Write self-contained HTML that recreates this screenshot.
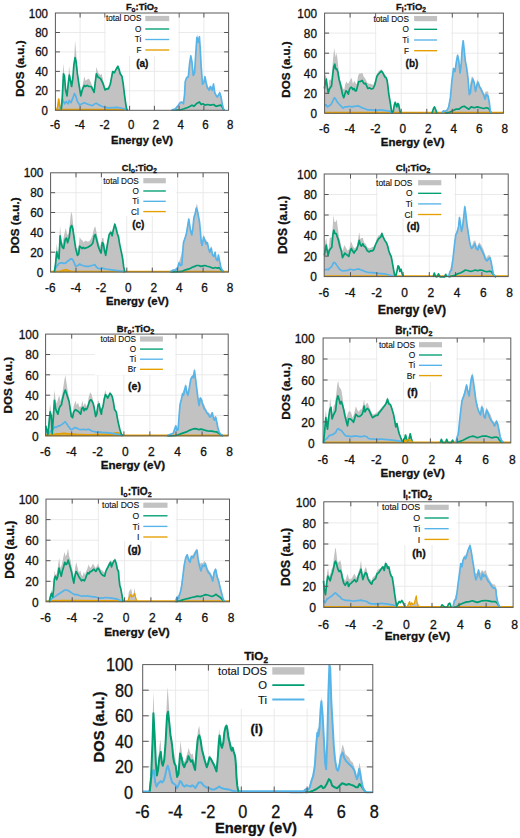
<!DOCTYPE html>
<html><head><meta charset="utf-8"><style>
html,body{margin:0;padding:0;background:#fff;}
svg{display:block;font-family:"Liberation Sans", sans-serif;}
text{fill:#111;stroke:#111;stroke-width:0.32px;}
text.l{stroke-width:0.12px;}
</style></head><body>
<svg width="520" height="838" viewBox="0 0 520 838">
<path d="M80.1 13V110.3M104.9 13V110.3M129.6 13V110.3M154.4 13V110.3M179.1 13V110.3M203.9 13V110.3M55.4 90.8H228.6M55.4 71.4H228.6M55.4 51.9H228.6M55.4 32.5H228.6" stroke="#e8e8e8" stroke-width="0.9" fill="none"/>
<polygon points="56.6,110.3 56.6,110.2 57.8,103.8 58.7,99.2 59.5,103.8 61,109.6 61.8,99.2 63.3,63.5 64.1,71.5 65.6,87.7 67,94.6 68.2,80.8 69.1,65.8 70.5,78.5 71.6,85.4 73,76.2 74.2,58.8 75.1,40.4 76.2,53.1 77.4,70.4 79.1,84.2 80.8,94.6 82.6,85.4 84.3,76.2 85.5,80.8 87.2,79.6 88.9,78.5 90.7,81.9 92.4,86.5 93.8,90 95.3,78.5 96.4,66.9 98.2,72.7 100.5,75 101.6,73.8 103.3,80.8 105.1,87.7 106.8,87.7 108.5,86.5 110.3,81.9 112.7,70.4 114.4,71.5 116.2,68.1 117.9,65.2 119,68.1 120.2,72.7 121.9,75 123.1,81.9 124.2,91.2 125.4,100.4 126.5,108.5 127.7,110.2 127.7,110.3" fill="#c2c2c2"/>
<polygon points="171.7,110.3 171.7,110 175.4,108.8 178.5,104.5 180.3,102 181.8,101.4 183.4,103.2 184.6,92.8 185.2,80.5 186.5,76.8 188.3,75.5 189.5,63.2 190.8,54.6 192,60.8 193.2,74.3 194.5,71.8 195.7,53.4 197.3,33.7 198.2,41.1 199.4,34.9 200.2,47.2 201.2,65.7 202.5,82.9 203.7,79.2 204.9,75.5 206.2,81.7 207.4,86.6 209.2,87.8 209.8,85.4 211.1,86 212.3,87.8 213.5,82.9 214.8,91.5 216,94 217.2,95.8 218.5,94 219.7,90.9 220.9,95.2 222.2,102.6 223.4,108.8 224.6,110 224.6,110.3" fill="#c2c2c2"/>
<polyline points="55.4,109.7 124.7,109.7" fill="none" stroke="#e69f00" stroke-width="1.7" stroke-linejoin="round"/>
<polyline points="56.6,110.2 57.8,106.2 58.7,99.2 59.6,105 60.7,110.2" fill="none" stroke="#e69f00" stroke-width="1.7" stroke-linejoin="round"/>
<polyline points="61.2,109.6 62.4,99.2 63.5,101.5 64.7,103.8 66.4,101.5 68.2,103.8 69.3,100.4 71,102.7 72.8,98.1 74.5,93.5 75.7,95.8 77.4,101.5 79.7,105 82,103.8 84.3,102.7 86.6,103.8 90.1,105 92.4,105.6 94.7,103.8 96.4,103.3 98.2,104.4 101.6,106.2 105.1,107.3 108.5,107.9 117.3,107.3 123.1,108.5 127.7,110.2" fill="none" stroke="#56b4e9" stroke-width="1.7" stroke-linejoin="round"/>
<polyline points="61.2,109.6 62.2,99.2 63.5,73.8 64.5,76.2 65.6,90 67,95.8 68.2,84.2 69.3,75 70.5,80.8 71.6,86.5 72.8,78.5 73.9,64.6 75.1,57.7 76.2,62.3 77.4,73.8 79.1,85.4 80.8,95.8 82.6,88.8 84.3,85.4 85.5,86.5 87.2,85.4 88.9,86.5 91.2,86.5 93,90 94.1,92.3 95.3,81.9 96.4,73.8 98.2,77.3 100.5,78.5 102.8,83.1 105.1,90 106.8,88.8 108.5,88.8 110.3,84.2 112.7,71.5 114.4,72.7 116.2,69.2 117.9,66.3 119,69.2 120.2,73.8 121.9,76.2 123.1,83.1 124.2,92.3 125.4,101.5 126.5,108.5 127.7,110.2" fill="none" stroke="#009e73" stroke-width="1.7" stroke-linejoin="round"/>
<polyline points="171.7,110 180.3,110 184,108.8 187.7,107.5 190.2,106.3 192,105.1 193.8,106.3 196.3,103.8 199.4,102 201.2,104.5 203.1,103.8 204.9,105.1 207.4,104.5 210.5,105.1 213.5,104.5 216,106.3 218.5,105.7 220.9,105.1 222.2,106.9 223.4,109.4 224.6,110" fill="none" stroke="#009e73" stroke-width="1.7" stroke-linejoin="round"/>
<polyline points="171.7,110 175.4,108.8 178.5,105.1 180.3,102.6 181.8,102 183.4,103.8 184.6,94 185.2,81.7 186.5,78 188.3,76.8 189.5,64.5 190.8,55.8 192,62 193.2,75.5 194.5,73.1 195.7,54.6 196.9,37.4 198.2,42.3 199.4,36.8 200.2,48.5 201.2,66.9 202.5,84.2 204.3,81.7 204.9,76.8 206.2,82.9 207.4,87.8 209.2,90.3 210.5,86.6 212.3,90.3 213.5,84.2 214.8,92.8 216,95.2 217.2,97.1 218.5,95.2 219.7,92.8 220.9,96.5 222.2,103.8 223.4,108.8 224.6,110" fill="none" stroke="#56b4e9" stroke-width="1.7" stroke-linejoin="round"/>
<path d="M80.1 13v4.5M80.1 110.3v-4.5M104.9 13v4.5M104.9 110.3v-4.5M129.6 13v4.5M129.6 110.3v-4.5M154.4 13v4.5M154.4 110.3v-4.5M179.1 13v4.5M179.1 110.3v-4.5M203.9 13v4.5M203.9 110.3v-4.5M55.4 90.8h4.5M228.6 90.8h-4.5M55.4 71.4h4.5M228.6 71.4h-4.5M55.4 51.9h4.5M228.6 51.9h-4.5M55.4 32.5h4.5M228.6 32.5h-4.5" stroke="#555" stroke-width="1" fill="none"/>
<rect x="105.7" y="13" width="72.6" height="43" fill="#fff"/>
<rect x="55.4" y="13" width="173.2" height="97.3" fill="none" stroke="#5a5a5a" stroke-width="1"/>
<text transform="translate(48 110.3) scale(0.9091 1)" font-size="12.65" text-anchor="end" dy="0.36em">0</text>
<text transform="translate(48 90.8) scale(0.9091 1)" font-size="12.65" text-anchor="end" dy="0.36em">20</text>
<text transform="translate(48 71.4) scale(0.9091 1)" font-size="12.65" text-anchor="end" dy="0.36em">40</text>
<text transform="translate(48 51.9) scale(0.9091 1)" font-size="12.65" text-anchor="end" dy="0.36em">60</text>
<text transform="translate(48 32.5) scale(0.9091 1)" font-size="12.65" text-anchor="end" dy="0.36em">80</text>
<text transform="translate(48 13) scale(0.9091 1)" font-size="12.65" text-anchor="end" dy="0.36em">100</text>
<text transform="translate(55.1 129.2) scale(0.9091 1)" font-size="12.65" text-anchor="middle">-6</text>
<text transform="translate(79.8 129.2) scale(0.9091 1)" font-size="12.65" text-anchor="middle">-4</text>
<text transform="translate(104.6 129.2) scale(0.9091 1)" font-size="12.65" text-anchor="middle">-2</text>
<text transform="translate(131.1 129.2) scale(0.9091 1)" font-size="12.65" text-anchor="middle">0</text>
<text transform="translate(155.9 129.2) scale(0.9091 1)" font-size="12.65" text-anchor="middle">2</text>
<text transform="translate(180.6 129.2) scale(0.9091 1)" font-size="12.65" text-anchor="middle">4</text>
<text transform="translate(205.4 129.2) scale(0.9091 1)" font-size="12.65" text-anchor="middle">6</text>
<text transform="translate(230.1 129.2) scale(0.9091 1)" font-size="12.65" text-anchor="middle">8</text>
<text transform="translate(142 144.2) scale(1.0000 1)" font-size="11.2" font-weight="bold" text-anchor="middle">Energy (eV)</text>
<text transform="translate(23.5 68.6) rotate(-90) scale(1.0000 1)" font-size="11.7" font-weight="bold" text-anchor="middle">DOS (a.u.)</text>
<text transform="translate(141.8 9.5) scale(1.0000 1)" font-size="9.35" font-weight="bold" text-anchor="middle">F<tspan font-size="6.5" dy="2">o</tspan><tspan dy="-2">:TiO</tspan><tspan font-size="6.5" dy="2">2</tspan></text>
<text class="l" transform="translate(141.4 18.5) scale(1.0000 1)" font-size="8.2" text-anchor="end" dy="0.36em">total DOS</text>
<rect x="145.3" y="15.9" width="23.9" height="5.2" fill="#c2c2c2"/>
<text class="l" transform="translate(141.4 29) scale(1.0000 1)" font-size="8.2" text-anchor="end" dy="0.36em">O</text>
<path d="M145.3 29H169.2" stroke="#009e73" stroke-width="1.35"/>
<text class="l" transform="translate(141.4 39.5) scale(1.0000 1)" font-size="8.2" text-anchor="end" dy="0.36em">Ti</text>
<path d="M145.3 39.5H169.2" stroke="#56b4e9" stroke-width="1.35"/>
<text class="l" transform="translate(141.4 50) scale(1.0000 1)" font-size="8.2" text-anchor="end" dy="0.36em">F</text>
<path d="M145.3 50H169.2" stroke="#e69f00" stroke-width="1.35"/>
<text transform="translate(142.3 66.5) scale(1.0000 1)" font-size="10.0" font-weight="bold" text-anchor="middle">(a)</text>
<path d="M350.1 13.1V113.3M375.7 13.1V113.3M401.2 13.1V113.3M426.8 13.1V113.3M452.3 13.1V113.3M477.9 13.1V113.3M324.6 93.3H503.4M324.6 73.2H503.4M324.6 53.2H503.4M324.6 33.1H503.4" stroke="#e8e8e8" stroke-width="0.9" fill="none"/>
<polygon points="324.4,113.3 324.4,112.9 324.4,78.1 325.2,74.6 326.3,76.9 327.5,86.2 328.3,89.6 329.2,80.4 330.4,79.2 331.5,81.5 332.7,63.1 333.8,51.5 334.4,48.1 335.2,57.3 336.2,52.7 337.3,57.3 338.5,68.8 339.6,78.1 341.3,83.8 343.1,88.5 344.2,89.6 345.4,83.8 346.5,81.5 347.7,83.8 348.8,82.7 350.6,79.2 351.7,78.1 352.9,83.8 354.6,80.4 355.8,83.8 356.9,83.8 358.1,75.8 359.2,73.5 360.4,73.5 361.5,72.9 362.7,73.5 363.8,76.9 365,78.1 366.2,80.4 367.3,82.7 369,83.8 370.8,83.8 373.1,85 374.8,81.5 376.7,74.6 378.5,71.2 380.2,70 381.3,69.4 382.5,70.6 384.2,73.5 386,75.8 387.7,83.8 389.4,95.4 391.2,109.2 392.3,112.7 393.2,111 394.4,103.5 395.2,101.2 396,103.5 396.9,105.8 397.8,102.3 398.7,103.5 399.5,108.7 400.4,112.9 400.4,113.3" fill="#c2c2c2"/>
<polygon points="431.9,113.3 431.9,113.4 433.5,107.7 434.5,106.2 435.8,109.2 437,113.4 437,113.3" fill="#c2c2c2"/>
<polygon points="441.9,113.3 441.9,113.1 447.3,109.2 450.4,96.2 451.9,79.2 453.5,66.9 455,70 456.5,59.2 457.6,53.8 458.8,59.2 460.1,71.5 461.2,62.3 462.7,39.2 464.2,48.5 465.3,59.2 466.5,65.4 468.1,77.7 469.3,93.1 470.4,82.3 471.9,76.2 473.5,77.7 475,88.5 477.3,79.2 479.6,85.4 481.9,88.5 484.2,94.6 485.8,91.5 488.1,91.5 489.3,100.8 490.4,110 491.5,113.1 491.5,113.3" fill="#c2c2c2"/>
<polyline points="324.6,112.7 503.4,112.7" fill="none" stroke="#e69f00" stroke-width="1.7" stroke-linejoin="round"/>
<polyline points="324.4,105.8 325.8,104.6 327.5,106.9 329.2,105.8 331,104.6 332.7,101.2 334.4,97.7 335.6,98.8 336.7,101.2 338.5,103.5 340.8,105.8 343.1,108.1 344.8,106.9 347.1,106.9 349.4,106.3 351.7,106.9 354.6,106.3 358.1,105.8 360.4,106.9 362.7,108.1 365,108.7 367.3,109.8 370.8,109.8 374.2,110.2 377.7,110.4 379.6,109.8 384.2,110.4 388.8,111 391.7,112.7" fill="none" stroke="#56b4e9" stroke-width="1.7" stroke-linejoin="round"/>
<polyline points="324.4,88.5 325.2,83.8 326.3,79.2 327.5,88.5 328.3,93.1 329.2,89.6 330.4,87.3 331.5,86.2 332.7,74.6 333.8,66.5 334.8,64.2 335.6,68.8 336.7,68.8 337.9,72.3 339,79.2 340.8,86.2 342.5,94.2 343.7,97.7 344.8,94.2 346,90.8 347.1,91.9 348.3,94.2 349.4,89.6 350.6,87.3 351.7,87.3 352.9,89.6 354,88.5 355.2,90.8 356.3,90.8 357.5,86.2 358.7,81.5 360.4,81.5 362.1,80.4 363.3,82.7 364.4,83.8 365.6,83.3 366.7,86.2 367.9,88.5 369.6,87.9 371.3,89 373.1,88.5 374.8,85 376.7,76.9 377.9,74.6 379,73.5 380.2,72.3 381.3,71.2 382.5,72.3 383.7,74.6 384.8,76.9 386,77.5 387.1,80.4 387.9,86.2 388.8,94.2 389.8,100 390.6,104.6 391.4,110.4 392.3,112.7 393.2,111.5 394.4,104.6 395.2,102.3 396,104.6 396.9,106.9 397.8,103.5 398.7,104.6 399.5,109.2 400.4,112.7" fill="none" stroke="#009e73" stroke-width="1.7" stroke-linejoin="round"/>
<polyline points="431.9,113.4 433.5,108.5 434.5,106.9 435.8,110 437,113.4" fill="none" stroke="#009e73" stroke-width="1.7" stroke-linejoin="round"/>
<polyline points="445,113.1 449.6,112.3 452.7,110.8 455.8,109.2 458.8,109.2 461.9,106.9 464.2,106.2 466.5,107.7 468.8,109.2 471.2,106.9 474.2,107.7 477.3,106.9 480.4,107.7 483.5,108.5 486.5,107.7 488.8,108.5 490.4,111.5 491.5,113.1" fill="none" stroke="#009e73" stroke-width="1.7" stroke-linejoin="round"/>
<polyline points="441.9,113.1 443.5,110.8 445,111.5 447.3,110 448.8,106.9 450.4,97.7 451.9,80.8 453.5,68.5 455,71.5 456.5,60.8 457.6,55.4 458.8,60.8 460.1,73.1 461.2,63.8 462.2,48.5 463.2,40.8 464.2,50 465.3,60.8 466.5,66.9 468.1,79.2 469.3,94.6 470.4,93.1 471.2,85.4 472.7,79.2 474.2,82.3 475.5,91.5 476.5,86.9 478.1,82.3 479.6,86.9 480.7,88.5 481.9,91.5 483.5,94.6 485,99.2 486.2,94.6 488.1,96.2 489.3,102.3 490.4,111.5 491.5,113.1" fill="none" stroke="#56b4e9" stroke-width="1.7" stroke-linejoin="round"/>
<path d="M350.1 13.1v4.5M350.1 113.3v-4.5M375.7 13.1v4.5M375.7 113.3v-4.5M401.2 13.1v4.5M401.2 113.3v-4.5M426.8 13.1v4.5M426.8 113.3v-4.5M452.3 13.1v4.5M452.3 113.3v-4.5M477.9 13.1v4.5M477.9 113.3v-4.5M324.6 93.3h4.5M503.4 93.3h-4.5M324.6 73.2h4.5M503.4 73.2h-4.5M324.6 53.2h4.5M503.4 53.2h-4.5M324.6 33.1h4.5M503.4 33.1h-4.5" stroke="#555" stroke-width="1" fill="none"/>
<rect x="376.5" y="13.1" width="74.2" height="40.9" fill="#fff"/>
<rect x="324.6" y="13.1" width="178.8" height="100.2" fill="none" stroke="#5a5a5a" stroke-width="1"/>
<text transform="translate(317 113.3) scale(0.9091 1)" font-size="12.98" text-anchor="end" dy="0.36em">0</text>
<text transform="translate(317 93.3) scale(0.9091 1)" font-size="12.98" text-anchor="end" dy="0.36em">20</text>
<text transform="translate(317 73.2) scale(0.9091 1)" font-size="12.98" text-anchor="end" dy="0.36em">40</text>
<text transform="translate(317 53.2) scale(0.9091 1)" font-size="12.98" text-anchor="end" dy="0.36em">60</text>
<text transform="translate(317 33.1) scale(0.9091 1)" font-size="12.98" text-anchor="end" dy="0.36em">80</text>
<text transform="translate(317 13.1) scale(0.9091 1)" font-size="12.98" text-anchor="end" dy="0.36em">100</text>
<text transform="translate(324.3 132.7) scale(0.9091 1)" font-size="12.98" text-anchor="middle">-6</text>
<text transform="translate(349.8 132.7) scale(0.9091 1)" font-size="12.98" text-anchor="middle">-4</text>
<text transform="translate(375.4 132.7) scale(0.9091 1)" font-size="12.98" text-anchor="middle">-2</text>
<text transform="translate(402.7 132.7) scale(0.9091 1)" font-size="12.98" text-anchor="middle">0</text>
<text transform="translate(428.3 132.7) scale(0.9091 1)" font-size="12.98" text-anchor="middle">2</text>
<text transform="translate(453.8 132.7) scale(0.9091 1)" font-size="12.98" text-anchor="middle">4</text>
<text transform="translate(479.4 132.7) scale(0.9091 1)" font-size="12.98" text-anchor="middle">6</text>
<text transform="translate(504.9 132.7) scale(0.9091 1)" font-size="12.98" text-anchor="middle">8</text>
<text transform="translate(412.7 146.4) scale(1.0000 1)" font-size="11.5" font-weight="bold" text-anchor="middle">Energy (eV)</text>
<text transform="translate(289.6 69.5) rotate(-90) scale(1.0000 1)" font-size="11.7" font-weight="bold" text-anchor="middle">DOS (a.u.)</text>
<text transform="translate(411 10) scale(1.0000 1)" font-size="9.4" font-weight="bold" text-anchor="middle">F<tspan font-size="6.6" dy="2">i</tspan><tspan dy="-2">:TiO</tspan><tspan font-size="6.6" dy="2">2</tspan></text>
<text class="l" transform="translate(408.9 18.6) scale(1.0000 1)" font-size="8.2" text-anchor="end" dy="0.36em">total DOS</text>
<rect x="414.1" y="16" width="23" height="5.2" fill="#c2c2c2"/>
<text class="l" transform="translate(408.9 29.3) scale(1.0000 1)" font-size="8.2" text-anchor="end" dy="0.36em">O</text>
<path d="M414.1 29.3H437.1" stroke="#009e73" stroke-width="1.35"/>
<text class="l" transform="translate(408.9 40) scale(1.0000 1)" font-size="8.2" text-anchor="end" dy="0.36em">Ti</text>
<path d="M414.1 40H437.1" stroke="#56b4e9" stroke-width="1.35"/>
<text class="l" transform="translate(408.9 50.7) scale(1.0000 1)" font-size="8.2" text-anchor="end" dy="0.36em">F</text>
<path d="M414.1 50.7H437.1" stroke="#e69f00" stroke-width="1.35"/>
<text transform="translate(412 66.7) scale(1.0000 1)" font-size="10.0" font-weight="bold" text-anchor="middle">(b)</text>
<path d="M76 172.8V272.1M101.4 172.8V272.1M126.8 172.8V272.1M152.3 172.8V272.1M177.7 172.8V272.1M203.1 172.8V272.1M50.6 252.2H228.5M50.6 232.4H228.5M50.6 212.5H228.5M50.6 192.7H228.5" stroke="#e8e8e8" stroke-width="0.9" fill="none"/>
<polygon points="52.6,272.1 52.6,272.1 54.3,269.2 55.5,257.7 56.7,243.8 57.8,251.9 59,248.5 60.1,225.4 61.3,241.5 62.4,243.8 64.2,234.6 65.9,227.7 67,234.6 68.5,234.6 69.9,223.1 71.1,211.5 72.2,215 73.4,226.5 75.1,243.8 76.8,250.8 78.6,246.2 79.7,236.9 80.9,239.2 82.6,240.4 83.8,242.7 84.9,240.4 87.2,241.5 89,241.5 90.7,239.2 92.4,235.8 94.2,227.7 95.3,226.5 96.5,232.3 98.2,240.4 99.9,246.2 101.1,243.8 102.2,238.1 103.4,238.1 104.5,246.2 105.7,249.6 106.8,243.8 108.1,238.1 109.2,232.3 111,230 112.1,233.5 113.3,228.8 114.8,222.5 116.2,227.7 117.3,232.3 118.5,236.9 119.6,243.8 121.3,251.9 122.5,257.7 123.7,266.9 124.8,272.1 124.8,272.1" fill="#c2c2c2"/>
<polygon points="170.4,272.1 170.4,271.7 177.7,266.8 179.1,262 182.8,249.5 183.5,241.2 186.3,232.9 187.7,223.2 188.8,217.7 190.7,230.2 191.8,232.9 193.9,214.9 195.3,210.8 196.7,203.8 197.4,205.2 198.5,214.9 200.4,230.2 201.3,241.2 202.2,244 203.6,234.3 205,238.5 207.1,241.2 208.5,246.8 209.8,250.9 211.2,245.4 212.6,253.7 214,255.1 215.1,250.9 216.1,257.8 217.5,259.2 218.4,253 219.5,259.2 220.9,266.2 222.3,270 223.7,271.7 223.7,272.1" fill="#c2c2c2"/>
<polyline points="50.6,271.5 228.5,271.5" fill="none" stroke="#e69f00" stroke-width="1.7" stroke-linejoin="round"/>
<polyline points="59.5,271.8 63,270.4 65.3,269.7 67.6,270.2 71.1,271.5" fill="none" stroke="#e69f00" stroke-width="1.7" stroke-linejoin="round"/>
<polyline points="54.3,272.1 55.5,268.1 57.2,265.8 59,263.5 60.7,262.9 62.4,262.9 64.2,263.5 65.9,262.9 67.6,261.2 69.3,260 71.1,258.8 72.5,259.4 74,262.3 75.7,266.3 77.4,265.8 79.7,264 81.5,265.2 83.8,265.8 86.1,266.3 88.4,266.3 90.7,265.8 93,265.2 94.7,264.6 95.9,266.3 97.6,268.1 99.9,268.7 102.2,268.1 104.5,268.7 105.8,269 111.5,269.8 117.3,270.6 123.1,271.5 124.8,272.1" fill="none" stroke="#56b4e9" stroke-width="1.7" stroke-linejoin="round"/>
<polyline points="54.3,272.1 55.5,264.6 56.7,251.9 57.8,256.5 59,258.8 60.1,235.8 61.3,243.8 62.4,247.3 63.6,248.5 65.3,239.2 66.5,238.1 67.6,242.7 69.3,236.9 70.5,227.7 71.7,225.4 72.8,228.8 74,236.9 75.7,248.5 77.4,255.4 78.6,254.2 79.7,246.2 80.9,247.3 82,248.5 83.2,247.3 84.3,248.5 86.1,247.9 87.8,247.3 89.5,246.2 91.3,245 93,242.7 94.2,235.8 95.3,234.6 96.5,239.2 98.2,246.2 99.9,250.8 101.1,253.1 102.2,242.7 103.4,243.8 104.5,250.8 105.7,255.4 106.8,248.5 108.1,240.4 109.2,234.6 111,232.3 112.1,235.8 113.3,230 114.8,224.2 116.2,228.8 117.3,233.5 118.5,236.9 119.6,243.8 121.3,251.9 122.5,257.7 123.7,266.9 124.8,272.1" fill="none" stroke="#009e73" stroke-width="1.7" stroke-linejoin="round"/>
<polyline points="170.4,272 179.4,271.7 182.2,271.4 184.2,270.3 186.3,269.6 189.1,268.9 191.8,267.5 194.6,266.4 196.7,265.5 198.8,265.5 200.8,266.4 202.9,265.9 205,265.5 207.1,266.2 209.2,266.8 211.2,267.5 213.3,268.2 215.4,267.5 217.5,268.2 218.8,267.5 220.2,268.9 221.6,270.3 223.7,271.7" fill="none" stroke="#009e73" stroke-width="1.7" stroke-linejoin="round"/>
<polyline points="170.4,271.7 173.2,270 175.9,270.3 177.7,267.5 179.1,262.7 180.5,265.5 181.9,264.8 182.8,250.9 183.5,242.6 184.9,238.5 186.3,234.3 187.7,226 188.8,219.1 189.8,226 190.7,231.5 191.8,235 193,227.4 193.9,217.7 195.3,213.5 196.3,208 197.4,210.8 198.5,216.3 199.5,221.8 200.4,231.5 201.3,242.6 202.2,245.4 203.6,237.1 205,241.2 206.4,244 207.4,242.6 208.5,248.2 209.8,252.3 211.2,248.2 212.6,255.1 214,256.5 215.1,252.3 216.1,259.2 217.5,260.6 218.4,255.1 219.5,260.6 220.9,267.5 222.3,270.3 223.7,271.7" fill="none" stroke="#56b4e9" stroke-width="1.7" stroke-linejoin="round"/>
<path d="M76 172.8v4.5M76 272.1v-4.5M101.4 172.8v4.5M101.4 272.1v-4.5M126.8 172.8v4.5M126.8 272.1v-4.5M152.3 172.8v4.5M152.3 272.1v-4.5M177.7 172.8v4.5M177.7 272.1v-4.5M203.1 172.8v4.5M203.1 272.1v-4.5M50.6 252.2h4.5M228.5 252.2h-4.5M50.6 232.4h4.5M228.5 232.4h-4.5M50.6 212.5h4.5M228.5 212.5h-4.5M50.6 192.7h4.5M228.5 192.7h-4.5" stroke="#555" stroke-width="1" fill="none"/>
<rect x="102.2" y="172.8" width="74" height="43.2" fill="#fff"/>
<rect x="50.6" y="172.8" width="177.9" height="99.3" fill="none" stroke="#5a5a5a" stroke-width="1"/>
<text transform="translate(43.4 272.1) scale(0.9091 1)" font-size="12.98" text-anchor="end" dy="0.36em">0</text>
<text transform="translate(43.4 252.2) scale(0.9091 1)" font-size="12.98" text-anchor="end" dy="0.36em">20</text>
<text transform="translate(43.4 232.4) scale(0.9091 1)" font-size="12.98" text-anchor="end" dy="0.36em">40</text>
<text transform="translate(43.4 212.5) scale(0.9091 1)" font-size="12.98" text-anchor="end" dy="0.36em">60</text>
<text transform="translate(43.4 192.7) scale(0.9091 1)" font-size="12.98" text-anchor="end" dy="0.36em">80</text>
<text transform="translate(43.4 172.8) scale(0.9091 1)" font-size="12.98" text-anchor="end" dy="0.36em">100</text>
<text transform="translate(50.3 291.7) scale(0.9091 1)" font-size="12.98" text-anchor="middle">-6</text>
<text transform="translate(75.7 291.7) scale(0.9091 1)" font-size="12.98" text-anchor="middle">-4</text>
<text transform="translate(101.1 291.7) scale(0.9091 1)" font-size="12.98" text-anchor="middle">-2</text>
<text transform="translate(128.3 291.7) scale(0.9091 1)" font-size="12.98" text-anchor="middle">0</text>
<text transform="translate(153.8 291.7) scale(0.9091 1)" font-size="12.98" text-anchor="middle">2</text>
<text transform="translate(179.2 291.7) scale(0.9091 1)" font-size="12.98" text-anchor="middle">4</text>
<text transform="translate(204.6 291.7) scale(0.9091 1)" font-size="12.98" text-anchor="middle">6</text>
<text transform="translate(230 291.7) scale(0.9091 1)" font-size="12.98" text-anchor="middle">8</text>
<text transform="translate(137.4 304.6) scale(1.0000 1)" font-size="11.3" font-weight="bold" text-anchor="middle">Energy (eV)</text>
<text transform="translate(19.4 225.5) rotate(-90) scale(1.0000 1)" font-size="11.6" font-weight="bold" text-anchor="middle">DOS (a.u.)</text>
<text transform="translate(139.3 170.5) scale(1.0000 1)" font-size="9.2" font-weight="bold" text-anchor="middle">Cl<tspan font-size="6.4" dy="2">o</tspan><tspan dy="-2">:TiO</tspan><tspan font-size="6.4" dy="2">2</tspan></text>
<text class="l" transform="translate(138.8 180.7) scale(1.0000 1)" font-size="8.2" text-anchor="end" dy="0.36em">total DOS</text>
<rect x="143.3" y="178.1" width="22.5" height="5.2" fill="#c2c2c2"/>
<text class="l" transform="translate(138.8 191) scale(1.0000 1)" font-size="8.2" text-anchor="end" dy="0.36em">O</text>
<path d="M143.3 191H165.8" stroke="#009e73" stroke-width="1.35"/>
<text class="l" transform="translate(138.8 201.3) scale(1.0000 1)" font-size="8.2" text-anchor="end" dy="0.36em">Ti</text>
<path d="M143.3 201.3H165.8" stroke="#56b4e9" stroke-width="1.35"/>
<text class="l" transform="translate(138.8 211.6) scale(1.0000 1)" font-size="8.2" text-anchor="end" dy="0.36em">Cl</text>
<path d="M143.3 211.6H165.8" stroke="#e69f00" stroke-width="1.35"/>
<text transform="translate(138.3 227.9) scale(1.0000 1)" font-size="10.0" font-weight="bold" text-anchor="middle">(c)</text>
<path d="M350.5 174V276.6M376.8 174V276.6M403.1 174V276.6M429.3 174V276.6M455.6 174V276.6M481.9 174V276.6M324.2 256.1H508.2M324.2 235.6H508.2M324.2 215H508.2M324.2 194.5H508.2" stroke="#e8e8e8" stroke-width="0.9" fill="none"/>
<polygon points="324.4,276.6 324.4,276.4 324.4,251.9 325.5,240.4 326.3,238.1 327.5,250.8 328.7,248.5 329.8,238.1 331,236.9 332.1,238.1 332.9,223.1 333.6,215 334.4,221.9 335.6,221.9 336.7,219.6 337.9,228.8 339,236.9 340.8,243.8 341.9,250.8 343.1,249.6 344.2,245 345.6,247.3 347.7,250.8 349.4,248.5 350.6,241.5 351.7,242.7 352.9,246.2 354.6,248.5 356.9,246.2 358.3,238.1 359.2,232.3 360.4,239.2 361.5,238.1 362.9,238.1 364.1,242.7 365.6,243.8 367.3,247.3 369.6,248.5 371.9,247.3 374.2,246.2 376.5,239.2 378.3,235.8 380.8,234.6 381.9,231.2 383.1,235.8 384.8,239.2 386.5,242.7 388.3,248.5 390,253.1 391.2,256.5 392.3,262.3 393.5,269.2 394.6,275 395.8,276.2 395.8,276.6" fill="#c2c2c2"/>
<polygon points="448.5,276.6 448.5,276.9 450,270 453.1,256.2 454.6,242.3 455.8,233.1 458.5,225.4 459.5,216.2 461.5,230 463.8,214.6 464.8,203.8 466.9,222.3 468.5,233.1 470,242.3 471.5,246.9 473.8,240.8 475.4,240.8 476.9,246.9 479.2,242.3 481.5,245.4 483.1,248.5 484.6,253.1 486.2,257.7 487.7,256.2 489.2,254.6 490.8,257.7 492.3,266.9 493.4,273.1 494.6,276.2 496.2,276.9 496.2,276.6" fill="#c2c2c2"/>
<polyline points="324.2,276 508.2,276" fill="none" stroke="#e69f00" stroke-width="1.7" stroke-linejoin="round"/>
<polyline points="324.4,270.4 326.3,269.2 328.1,269.8 329.8,268.1 331.5,266.9 332.9,264 333.8,262.3 335,262.9 336.4,264.6 337.9,266.9 339.6,269.2 341.3,270.4 343.1,271 345.4,270.6 347.7,270.4 350,269.2 352.3,269.8 354.6,269.8 356.9,269.2 359,269 360.4,269.8 362.7,270.4 365,271.5 368.5,272.5 371.9,272.7 375.4,272.9 378.3,273.3 384.2,273.8 388.8,275 393.5,276.2" fill="none" stroke="#56b4e9" stroke-width="1.7" stroke-linejoin="round"/>
<polyline points="324.4,255.4 325.5,248.5 326.3,245 327.2,250.8 328.1,255.4 329.2,250.8 330.6,248.5 331.8,247.3 332.9,234.6 333.8,230 334.8,233.5 336.2,233.5 337.3,236.9 338.5,240.4 339.8,246.2 341.3,250.8 342.5,257.7 343.7,255.4 344.8,253.1 346,254.2 347.7,255.4 348.8,256.5 350.2,250.8 351.4,248.5 352.5,250.8 354,253.1 355.2,250.8 356.7,249.6 358.1,245 359.2,240.4 360.4,245 361.5,246.2 362.7,243.8 364.1,246.2 365.6,247.3 367.3,250.8 369,251.9 370.8,250.8 372.5,250.8 373.7,249.6 375.4,245 377.1,241.5 378.3,239.2 380.8,236.9 381.9,233.5 383.1,236.9 384.8,240.4 386.5,242.7 387.7,246.2 388.8,250.8 390,254.2 391.2,256.5 392.3,262.3 393.5,269.2 394.6,275 395.8,276.2 396.9,271.5 398.1,265.8 399,266.9 399.8,271.5 401,269.2 402.1,273.8 403.3,276.2" fill="none" stroke="#009e73" stroke-width="1.7" stroke-linejoin="round"/>
<polyline points="433.1,276.9 434.3,273.1 435.4,276.2 436.9,276.9 438.5,273.8 440,276.9 444.6,276.9 445.7,274.3 446.9,276.9" fill="none" stroke="#009e73" stroke-width="1.7" stroke-linejoin="round"/>
<polyline points="448.5,276.9 451.5,276.2 454.6,275.4 457.7,273.8 460.8,272.8 463.1,271.5 465.4,270 468.5,270.8 470.8,271.5 473.1,270.8 475.4,270 477.7,270.8 480,270 482.3,270.3 484.6,271.2 486.9,271.8 489.2,271.2 491.2,271.5 492.8,273.8 494.6,276.2 496.2,276.9" fill="none" stroke="#009e73" stroke-width="1.7" stroke-linejoin="round"/>
<polyline points="448.5,276.9 450,271.5 451.5,270 453.1,257.7 454.6,243.8 455.8,234.6 456.9,233.1 458.5,226.9 459.5,217.7 460.5,223.8 461.5,231.5 462.6,226.9 463.8,216.2 464.8,206.9 465.7,213.1 466.9,223.8 468.5,234.6 470,243.8 471.5,248.5 473.1,246.9 474.9,243.8 476.2,248.5 477.7,250 479.2,245.4 480.8,248.5 482.3,251.5 483.8,254.6 485.4,259.2 486.9,260.8 488.5,259.2 490,257.7 491.2,262.3 492.3,268.5 493.4,273.8 494.6,276.2 496.2,276.9" fill="none" stroke="#56b4e9" stroke-width="1.7" stroke-linejoin="round"/>
<path d="M350.5 174v4.5M350.5 276.6v-4.5M376.8 174v4.5M376.8 276.6v-4.5M403.1 174v4.5M403.1 276.6v-4.5M429.3 174v4.5M429.3 276.6v-4.5M455.6 174v4.5M455.6 276.6v-4.5M481.9 174v4.5M481.9 276.6v-4.5M324.2 256.1h4.5M508.2 256.1h-4.5M324.2 235.6h4.5M508.2 235.6h-4.5M324.2 215h4.5M508.2 215h-4.5M324.2 194.5h4.5M508.2 194.5h-4.5" stroke="#555" stroke-width="1" fill="none"/>
<rect x="377.6" y="174" width="76.6" height="44" fill="#fff"/>
<rect x="324.2" y="174" width="184" height="102.6" fill="none" stroke="#5a5a5a" stroke-width="1"/>
<text transform="translate(317 276.6) scale(0.9091 1)" font-size="13.2" text-anchor="end" dy="0.36em">0</text>
<text transform="translate(317 256.1) scale(0.9091 1)" font-size="13.2" text-anchor="end" dy="0.36em">20</text>
<text transform="translate(317 235.6) scale(0.9091 1)" font-size="13.2" text-anchor="end" dy="0.36em">40</text>
<text transform="translate(317 215) scale(0.9091 1)" font-size="13.2" text-anchor="end" dy="0.36em">60</text>
<text transform="translate(317 194.5) scale(0.9091 1)" font-size="13.2" text-anchor="end" dy="0.36em">80</text>
<text transform="translate(317 174) scale(0.9091 1)" font-size="13.2" text-anchor="end" dy="0.36em">100</text>
<text transform="translate(323.9 297) scale(0.9091 1)" font-size="13.2" text-anchor="middle">-6</text>
<text transform="translate(350.2 297) scale(0.9091 1)" font-size="13.2" text-anchor="middle">-4</text>
<text transform="translate(376.5 297) scale(0.9091 1)" font-size="13.2" text-anchor="middle">-2</text>
<text transform="translate(404.6 297) scale(0.9091 1)" font-size="13.2" text-anchor="middle">0</text>
<text transform="translate(430.8 297) scale(0.9091 1)" font-size="13.2" text-anchor="middle">2</text>
<text transform="translate(457.1 297) scale(0.9091 1)" font-size="13.2" text-anchor="middle">4</text>
<text transform="translate(483.4 297) scale(0.9091 1)" font-size="13.2" text-anchor="middle">6</text>
<text transform="translate(509.7 297) scale(0.9091 1)" font-size="13.2" text-anchor="middle">8</text>
<text transform="translate(411.9 313.6) scale(1.0000 1)" font-size="12.3" font-weight="bold" text-anchor="middle">Energy (eV)</text>
<text transform="translate(286.6 225.1) rotate(-90) scale(1.0000 1)" font-size="12.0" font-weight="bold" text-anchor="middle">DOS (a.u.)</text>
<text transform="translate(413 171) scale(1.0000 1)" font-size="9.75" font-weight="bold" text-anchor="middle">Cl<tspan font-size="6.8" dy="2">i</tspan><tspan dy="-2">:TiO</tspan><tspan font-size="6.8" dy="2">2</tspan></text>
<text class="l" transform="translate(412.4 182.7) scale(1.0000 1)" font-size="8.4" text-anchor="end" dy="0.36em">total DOS</text>
<rect x="418.1" y="180.1" width="23.2" height="5.2" fill="#c2c2c2"/>
<text class="l" transform="translate(412.4 193.3) scale(1.0000 1)" font-size="8.4" text-anchor="end" dy="0.36em">O</text>
<path d="M418.1 193.3H441.3" stroke="#009e73" stroke-width="1.35"/>
<text class="l" transform="translate(412.4 203.9) scale(1.0000 1)" font-size="8.4" text-anchor="end" dy="0.36em">Ti</text>
<path d="M418.1 203.9H441.3" stroke="#56b4e9" stroke-width="1.35"/>
<text class="l" transform="translate(412.4 214.5) scale(1.0000 1)" font-size="8.4" text-anchor="end" dy="0.36em">Cl</text>
<path d="M418.1 214.5H441.3" stroke="#e69f00" stroke-width="1.35"/>
<text transform="translate(413.2 229.9) scale(1.0000 1)" font-size="10.0" font-weight="bold" text-anchor="middle">(d)</text>
<path d="M71.7 334.1V435.9M97.8 334.1V435.9M123.9 334.1V435.9M149.9 334.1V435.9M176 334.1V435.9M202.1 334.1V435.9M45.6 415.5H228.2M45.6 395.2H228.2M45.6 374.8H228.2M45.6 354.5H228.2" stroke="#e8e8e8" stroke-width="0.9" fill="none"/>
<polygon points="45.7,435.9 45.7,435.6 45.7,424.6 47.8,433.8 48.9,415.4 50.1,403.8 51.2,414.2 52.2,426.9 53.3,403.8 54.5,390 55.6,400.4 56.8,403.8 58.2,398.1 59.3,395.8 60.5,401.5 62.2,394.6 63.9,383.1 65.3,375 66.5,383.1 68,392.3 69.1,398.1 70.3,406.2 71.4,414.2 72.6,413.1 73.7,406.2 75.5,400.4 76.6,405 78,402.7 79.5,407.3 81.2,406.2 82.4,400.4 83.5,406.2 84.9,402.7 86.4,406.2 87.6,405 88.7,396.9 90.2,392.3 91.6,394.6 92.8,399.2 94.5,406.2 95.7,413.1 96.8,409.6 98,400.4 99.1,401.5 100.3,407.3 101.4,408.5 103.1,403.8 104.2,395.8 105.2,390 106.5,394.6 107.7,395.8 108.8,394.6 110,391.2 111.2,393.5 112.3,395.8 113.5,401.5 114.6,408.5 116.3,410.8 117.5,417.7 118.7,423.5 119.8,429.2 121.5,434.4 122.7,435.6 122.7,435.9" fill="#c2c2c2"/>
<polygon points="167.4,435.9 167.4,435.5 173.3,432.6 174.7,428.2 175.8,424.5 178.4,428.9 179.1,414.3 180.1,402.6 182.5,392.4 184.7,388 185.7,383.6 186.9,390.9 187.9,393.8 190.1,380.7 192.3,374.8 193.3,376.3 194.5,367.5 195.6,376.3 196.7,386.5 198.1,398.2 199.6,398.2 200.6,396.8 201.8,398.2 202.9,402.6 204.7,405.5 206.9,411.4 209.1,412.8 210.5,414.3 212,411.4 213.5,417.2 215.7,415.8 216.7,420.2 217.8,426 219.3,431.8 221.5,434.8 223,435.9 223,435.9" fill="#c2c2c2"/>
<polyline points="45.6,435.3 228.2,435.3" fill="none" stroke="#e69f00" stroke-width="1.7" stroke-linejoin="round"/>
<polyline points="45.7,434.8 53.5,434.4 59.3,433.8 63.9,433.4 68.5,433.8 76.6,434.4 88.2,434.8 112.3,434.1 115.8,432.9 119.2,433.2 121.5,434.8" fill="none" stroke="#e69f00" stroke-width="1.7" stroke-linejoin="round"/>
<polyline points="45.7,429.2 47.8,433.8 49.5,432.7 51.2,430.4 53,429.2 54.7,426.9 56.4,427.5 58.2,425.8 59.9,425.8 61.6,424.6 63.3,423.5 65.1,421.7 66.5,423.5 68,425.8 69.7,428.1 71.4,429.8 73.2,428.7 74.9,427.5 76.6,428.1 78.9,429.2 81.2,429.8 83.5,429.2 85.8,429.8 88.2,429.2 89.9,429.8 91.6,431 93.9,431.5 96.2,432.1 98.5,432.1 101.4,432.1 100.8,432.5 106.5,432.7 112.3,433.3 118.1,434.4 122.7,435.6" fill="none" stroke="#56b4e9" stroke-width="1.7" stroke-linejoin="round"/>
<polyline points="45.7,425.8 46.6,429.2 47.8,435 48.9,424.6 50.1,411.9 51.2,415.4 52.2,433.8 53.3,417.7 54.5,400.4 55.6,408.5 56.8,411.9 57.9,414.2 59.1,408.5 60.2,406.2 61.4,405 62.5,399.2 63.9,393.5 65.3,390 66.5,393.5 67.6,396.9 69.1,401.5 70.3,409.6 71.4,416.5 72.6,417.7 73.7,411.9 75.5,409.6 77.2,410.8 78.9,411.9 80.7,414.2 81.8,408.5 83,407.3 84.1,410.8 85.3,408.5 86.4,409.6 87.6,407.3 88.7,403.8 89.9,400.4 91,399.8 92.2,401.5 93.3,403.8 94.5,409.6 95.7,416.5 96.8,414.2 98,405 99.1,403.8 100.3,410.8 101.4,414.2 101.9,409.6 103.1,406.2 104.2,399.2 105.4,394.6 106.5,395.8 107.7,398.1 108.8,395.8 110,393.5 111.2,394.6 112.3,396.9 113.5,402.7 114.6,409.6 116.3,411.9 117.5,418.8 118.7,424.6 119.8,429.2 121.5,434.4 122.7,435.6" fill="none" stroke="#009e73" stroke-width="1.7" stroke-linejoin="round"/>
<polyline points="167.4,435.9 175.5,435.5 178.4,434.8 181.3,433.6 184.2,432.6 187.2,431.6 190.1,430.1 192.3,429.2 194.5,428.6 196.7,428.9 198.8,429.7 201,429.2 203.2,429.7 205.4,430.4 207.6,430.8 209.8,431.1 212,431.1 214.2,431.6 216.4,431.8 218.6,433.3 220.8,434.8 223,435.9" fill="none" stroke="#009e73" stroke-width="1.7" stroke-linejoin="round"/>
<polyline points="167.4,435.5 171.1,434 173.3,433.3 174.7,428.9 175.8,426 176.9,430.4 178.1,429.7 179.1,415.8 180.1,404.1 181.3,399.7 182.5,393.8 183.5,395.3 184.7,389.5 185.7,385.8 186.9,392.4 187.9,395.3 189.3,388 190.8,379.2 192.3,376.3 193.3,377.8 194.5,370.5 195.6,379.2 196.7,388 198.1,399.7 199.1,405.5 200.3,398.2 201.5,399.7 202.5,404.1 204,408.5 205.4,409.9 206.9,412.8 208.3,414.3 209.8,417.2 211.3,415.8 212.3,412.8 213.5,418.7 214.6,420.2 215.7,417.2 216.7,421.6 217.8,427.5 219.3,432.6 221.5,434.8 223,435.9" fill="none" stroke="#56b4e9" stroke-width="1.7" stroke-linejoin="round"/>
<path d="M71.7 334.1v4.5M71.7 435.9v-4.5M97.8 334.1v4.5M97.8 435.9v-4.5M123.9 334.1v4.5M123.9 435.9v-4.5M149.9 334.1v4.5M149.9 435.9v-4.5M176 334.1v4.5M176 435.9v-4.5M202.1 334.1v4.5M202.1 435.9v-4.5M45.6 415.5h4.5M228.2 415.5h-4.5M45.6 395.2h4.5M228.2 395.2h-4.5M45.6 374.8h4.5M228.2 374.8h-4.5M45.6 354.5h4.5M228.2 354.5h-4.5" stroke="#555" stroke-width="1" fill="none"/>
<rect x="94.8" y="334.1" width="80.4" height="40.9" fill="#fff"/>
<rect x="45.6" y="334.1" width="182.6" height="101.8" fill="none" stroke="#5a5a5a" stroke-width="1"/>
<text transform="translate(38.7 435.9) scale(0.9091 1)" font-size="13.2" text-anchor="end" dy="0.36em">0</text>
<text transform="translate(38.7 415.5) scale(0.9091 1)" font-size="13.2" text-anchor="end" dy="0.36em">20</text>
<text transform="translate(38.7 395.2) scale(0.9091 1)" font-size="13.2" text-anchor="end" dy="0.36em">40</text>
<text transform="translate(38.7 374.8) scale(0.9091 1)" font-size="13.2" text-anchor="end" dy="0.36em">60</text>
<text transform="translate(38.7 354.5) scale(0.9091 1)" font-size="13.2" text-anchor="end" dy="0.36em">80</text>
<text transform="translate(38.7 334.1) scale(0.9091 1)" font-size="13.2" text-anchor="end" dy="0.36em">100</text>
<text transform="translate(45.3 455.7) scale(0.9091 1)" font-size="13.2" text-anchor="middle">-6</text>
<text transform="translate(71.4 455.7) scale(0.9091 1)" font-size="13.2" text-anchor="middle">-4</text>
<text transform="translate(97.5 455.7) scale(0.9091 1)" font-size="13.2" text-anchor="middle">-2</text>
<text transform="translate(125.4 455.7) scale(0.9091 1)" font-size="13.2" text-anchor="middle">0</text>
<text transform="translate(151.4 455.7) scale(0.9091 1)" font-size="13.2" text-anchor="middle">2</text>
<text transform="translate(177.5 455.7) scale(0.9091 1)" font-size="13.2" text-anchor="middle">4</text>
<text transform="translate(203.6 455.7) scale(0.9091 1)" font-size="13.2" text-anchor="middle">6</text>
<text transform="translate(229.7 455.7) scale(0.9091 1)" font-size="13.2" text-anchor="middle">8</text>
<text transform="translate(132.9 468.8) scale(1.0000 1)" font-size="11.6" font-weight="bold" text-anchor="middle">Energy (eV)</text>
<text transform="translate(11.9 385.2) rotate(-90) scale(1.0000 1)" font-size="11.7" font-weight="bold" text-anchor="middle">DOS (a.u.)</text>
<text transform="translate(135.5 331.5) scale(1.0000 1)" font-size="9.55" font-weight="bold" text-anchor="middle">Br<tspan font-size="6.7" dy="2">o</tspan><tspan dy="-2">:TiO</tspan><tspan font-size="6.7" dy="2">2</tspan></text>
<text class="l" transform="translate(136 339) scale(1.0000 1)" font-size="8.2" text-anchor="end" dy="0.36em">total DOS</text>
<rect x="140" y="336.4" width="22.9" height="5.2" fill="#c2c2c2"/>
<text class="l" transform="translate(136 349.1) scale(1.0000 1)" font-size="8.2" text-anchor="end" dy="0.36em">O</text>
<path d="M140 349.1H162.9" stroke="#009e73" stroke-width="1.35"/>
<text class="l" transform="translate(136 359.2) scale(1.0000 1)" font-size="8.2" text-anchor="end" dy="0.36em">Ti</text>
<path d="M140 359.2H162.9" stroke="#56b4e9" stroke-width="1.35"/>
<text class="l" transform="translate(136 369.3) scale(1.0000 1)" font-size="8.2" text-anchor="end" dy="0.36em">Br</text>
<path d="M140 369.3H162.9" stroke="#e69f00" stroke-width="1.35"/>
<text transform="translate(134.5 389.5) scale(1.0000 1)" font-size="10.5" font-weight="bold" text-anchor="middle">(e)</text>
<path d="M349.9 338V442.9M376.7 338V442.9M403.5 338V442.9M430.4 338V442.9M457.2 338V442.9M484 338V442.9M323.1 421.9H510.8M323.1 400.9H510.8M323.1 380H510.8M323.1 359H510.8" stroke="#e8e8e8" stroke-width="0.9" fill="none"/>
<polygon points="323.5,442.9 323.5,442.8 324.6,424.6 325.8,409.6 326.9,420 327.8,417.7 329,411.9 330.2,398.1 331.3,408.5 332.5,414.2 333.6,406.2 335,403.8 336.2,394.6 337.3,384.2 338.2,380.8 339,386.5 340.5,388.8 341.3,390 342.5,396.9 343.7,406.2 345.2,411.9 346.5,417.7 348.3,411.9 349.8,410.8 351.2,413.1 352.5,417.7 354,414.2 355.8,406.2 357.2,409.6 358.7,411.9 360.2,409.6 361.5,409.6 362.7,406.2 364.1,399.2 365,406.2 366.2,403.8 367.5,402.7 369,406.2 370.8,410.8 372.5,414.2 374.2,414.2 376,413.1 377.7,411.9 378.8,410.8 380.8,408.5 382.5,406.2 384.2,405 386,401.5 387.5,396.9 388.8,401.5 390.6,403.8 392.1,408.5 393.5,413.1 394.6,418.8 395.8,424.6 398.1,429.2 399.2,433.8 400.6,437.3 402.1,440.8 403.3,441.9 404.8,433.8 406.2,438.5 407.9,439.6 409.6,432.7 411.3,438.5 412.5,442.2 412.5,442.9" fill="#c2c2c2"/>
<polygon points="456,442.9 456,442.5 457.1,436.2 459.6,419.7 462,399.2 465.5,388.1 466.6,383.4 469.1,394.4 471.3,377.1 472.3,372.3 473.4,380.2 475.7,397.6 478.9,410.2 480.5,411.8 482,403.9 483.9,413.4 485.2,414.9 486.5,407 488.7,411.8 490.7,414.9 492.3,419.7 494.3,422.8 496.6,419.7 497.8,422.8 499.1,429.1 500.2,435.4 501.8,440.9 503.3,442.5 503.3,442.9" fill="#c2c2c2"/>
<polyline points="323.1,442.3 510.8,442.3" fill="none" stroke="#e69f00" stroke-width="1.7" stroke-linejoin="round"/>
<polyline points="323.5,442.8 325.2,439.6 326.9,438.5 328.7,436.2 330.4,435 332.1,435 333.8,433.8 335.6,432.7 337.3,429.2 338.5,428.7 339.6,429.8 341.3,430.4 343.1,432.7 344.8,435 346.5,436.2 348.8,436.2 351.2,436.7 353.5,436.2 355.8,436.2 358.1,436.2 359.8,436.7 361.5,436.7 363.3,436.2 365,436.2 366.7,436.7 368.5,438.5 370.8,439 373.1,439 376.5,439.4 378.8,439.4 380.8,439 386.5,439.6 392.3,440.2 398.1,440.8 402.7,441.9" fill="none" stroke="#56b4e9" stroke-width="1.7" stroke-linejoin="round"/>
<polyline points="323.5,442.8 324.6,431.5 325.8,417.7 326.7,424.6 327.5,429.2 328.7,417.7 329.8,409.6 331,407.3 332.1,418.8 333.3,415.4 334.4,413.1 335.6,410.8 336.7,400.4 337.9,395.8 339,399.2 340.2,403.8 341.3,401.5 342.5,405 343.7,409.6 344.8,415.4 346.3,421.2 347.5,425.8 348.6,418.8 350.2,418.8 351.7,420 353.5,422.3 354.6,418.8 355.8,414.2 356.9,415.4 358.1,416.5 359.5,416.5 361,415.4 362.1,414.2 363.3,410.8 364.1,406.2 365,411.9 366.2,409.6 367.3,408.5 368.7,409.6 369.8,411.9 371.3,415.4 372.5,417.7 374.2,416.5 376,415.4 377.7,415.4 378.8,413.1 380.8,410.8 382.5,408.5 384.2,406.2 386,403.8 387.5,399.2 388.8,403.8 390.6,405 392.1,409.6 393.5,414.2 394.6,420 395.8,426.9 396.9,423.5 398.1,429.2 399.2,433.8 400.6,437.3 402.1,440.8 403.3,441.9 404.4,439.6 405.6,435 406.7,439.6 407.9,440.8 409,439.6 410.2,433.8 411.3,438.5 412.5,442.2" fill="none" stroke="#009e73" stroke-width="1.7" stroke-linejoin="round"/>
<polyline points="403.3,442.2 405,440.2 406.7,440.8 408.5,439.6 410.8,440.8 412.5,442.2" fill="none" stroke="#e69f00" stroke-width="1.7" stroke-linejoin="round"/>
<polyline points="440.3,442.5 441.4,439.4 442.6,442.5 445.5,442.5 446.7,439.4 448,442.5 451.3,442.5 452.6,440.2 453.7,442.5" fill="none" stroke="#009e73" stroke-width="1.7" stroke-linejoin="round"/>
<polyline points="456,442.5 460,441.4 463.1,440.2 466.3,438.6 469.4,437 472.3,436.2 474.9,436.7 477.3,437.8 479.7,437 482,436.2 484.4,436.2 486.8,436.2 489.1,437 491.5,437.8 493.9,437.3 496.2,437 498.1,437.8 499.4,440.2 501,441.7 503.3,442.5" fill="none" stroke="#009e73" stroke-width="1.7" stroke-linejoin="round"/>
<polyline points="456,442.5 457.1,437 458.4,433.9 459.6,421.2 460.8,410.2 462,400.7 463.1,397.6 464.4,394.4 465.5,389.7 466.6,385 467.8,391.3 469.1,396 470.2,386.5 471.3,378.7 472.3,375.5 473.4,381.8 474.5,389.7 475.7,399.2 477.3,407 478.9,411.8 480.5,414.9 481.7,407 482.8,408.6 483.9,416.5 485.2,418.1 486.5,410.2 487.6,411.8 488.7,414.9 489.9,418.1 491.5,421.2 493.1,422.8 494.3,426 495.4,424.4 496.6,421.2 497.8,424.4 499.1,430.7 500.2,437 501.8,440.9 503.3,442.5" fill="none" stroke="#56b4e9" stroke-width="1.7" stroke-linejoin="round"/>
<path d="M349.9 338v4.5M349.9 442.9v-4.5M376.7 338v4.5M376.7 442.9v-4.5M403.5 338v4.5M403.5 442.9v-4.5M430.4 338v4.5M430.4 442.9v-4.5M457.2 338v4.5M457.2 442.9v-4.5M484 338v4.5M484 442.9v-4.5M323.1 421.9h4.5M510.8 421.9h-4.5M323.1 400.9h4.5M510.8 400.9h-4.5M323.1 380h4.5M510.8 380h-4.5M323.1 359h4.5M510.8 359h-4.5" stroke="#555" stroke-width="1" fill="none"/>
<rect x="377.5" y="338" width="78.7" height="44" fill="#fff"/>
<rect x="323.1" y="338" width="187.7" height="104.9" fill="none" stroke="#5a5a5a" stroke-width="1"/>
<text transform="translate(314.7 442.9) scale(0.9091 1)" font-size="13.2" text-anchor="end" dy="0.36em">0</text>
<text transform="translate(314.7 421.9) scale(0.9091 1)" font-size="13.2" text-anchor="end" dy="0.36em">20</text>
<text transform="translate(314.7 400.9) scale(0.9091 1)" font-size="13.2" text-anchor="end" dy="0.36em">40</text>
<text transform="translate(314.7 380) scale(0.9091 1)" font-size="13.2" text-anchor="end" dy="0.36em">60</text>
<text transform="translate(314.7 359) scale(0.9091 1)" font-size="13.2" text-anchor="end" dy="0.36em">80</text>
<text transform="translate(314.7 338) scale(0.9091 1)" font-size="13.2" text-anchor="end" dy="0.36em">100</text>
<text transform="translate(322.8 463.5) scale(0.9091 1)" font-size="13.2" text-anchor="middle">-6</text>
<text transform="translate(349.6 463.5) scale(0.9091 1)" font-size="13.2" text-anchor="middle">-4</text>
<text transform="translate(376.4 463.5) scale(0.9091 1)" font-size="13.2" text-anchor="middle">-2</text>
<text transform="translate(405 463.5) scale(0.9091 1)" font-size="13.2" text-anchor="middle">0</text>
<text transform="translate(431.9 463.5) scale(0.9091 1)" font-size="13.2" text-anchor="middle">2</text>
<text transform="translate(458.7 463.5) scale(0.9091 1)" font-size="13.2" text-anchor="middle">4</text>
<text transform="translate(485.5 463.5) scale(0.9091 1)" font-size="13.2" text-anchor="middle">6</text>
<text transform="translate(512.3 463.5) scale(0.9091 1)" font-size="13.2" text-anchor="middle">8</text>
<text transform="translate(412.7 476.5) scale(1.0000 1)" font-size="11.6" font-weight="bold" text-anchor="middle">Energy (eV)</text>
<text transform="translate(289.9 391.3) rotate(-90) scale(1.0000 1)" font-size="11.8" font-weight="bold" text-anchor="middle">DOS (a.u.)</text>
<text transform="translate(413.8 334) scale(1.0000 1)" font-size="10.1" font-weight="bold" text-anchor="middle">Br<tspan font-size="7.1" dy="2">i</tspan><tspan dy="-2">:TiO</tspan><tspan font-size="7.1" dy="2">2</tspan></text>
<text class="l" transform="translate(415.2 344.7) scale(1.0000 1)" font-size="8.4" text-anchor="end" dy="0.36em">total DOS</text>
<rect x="419" y="342.1" width="23" height="5.2" fill="#c2c2c2"/>
<text class="l" transform="translate(415.2 355) scale(1.0000 1)" font-size="8.4" text-anchor="end" dy="0.36em">O</text>
<path d="M419 355H442" stroke="#009e73" stroke-width="1.35"/>
<text class="l" transform="translate(415.2 365.3) scale(1.0000 1)" font-size="8.4" text-anchor="end" dy="0.36em">Ti</text>
<path d="M419 365.3H442" stroke="#56b4e9" stroke-width="1.35"/>
<text class="l" transform="translate(415.2 375.6) scale(1.0000 1)" font-size="8.4" text-anchor="end" dy="0.36em">Br</text>
<path d="M419 375.6H442" stroke="#e69f00" stroke-width="1.35"/>
<text transform="translate(412.6 396.3) scale(1.0000 1)" font-size="10.5" font-weight="bold" text-anchor="middle">(f)</text>
<path d="M72.2 499.1V601.8M98.4 499.1V601.8M124.6 499.1V601.8M150.9 499.1V601.8M177.1 499.1V601.8M203.3 499.1V601.8M46 581.3H229.5M46 560.7H229.5M46 540.2H229.5M46 519.6H229.5" stroke="#e8e8e8" stroke-width="0.9" fill="none"/>
<polygon points="49.2,601.8 49.2,602.1 50.3,594.6 51.5,590 52.7,593.5 53.5,584.2 54.6,570.4 55.5,575 56.7,573.8 57.8,566.9 59.2,557.7 60.4,568.1 61.9,564.6 63,558.8 64.5,551.9 65.7,556.5 66.8,554.2 68,548.5 69.2,556.5 70.5,560 71.7,566.9 72.8,571.5 74,578.5 75.2,566.9 76.3,562.3 77.7,568.1 78.8,572.7 80.3,570.4 81.5,575 82.7,576.2 83.8,571.5 85,575 86.1,571.5 87.6,568.1 88.4,564.6 89.6,566.9 90.7,568.1 91.9,565.8 93,563.5 94.2,565.8 95.7,568.1 97.1,565.8 98.2,563.5 99.4,566.9 100.5,569.2 102.3,570.4 104.6,572.7 105.8,569.2 108.1,564.6 110.4,560.6 112.7,562.3 115,557.7 116.7,563.5 118.5,570.4 119.8,584.2 121.9,593.5 123.1,601.8 123.1,601.8" fill="#c2c2c2"/>
<polygon points="127.7,601.8 127.7,601.8 128.8,592.3 130,590 131.2,588.8 132.3,594.6 133.5,594.6 134.6,587.7 135.8,596.9 136.9,601.8 136.9,601.8" fill="#c2c2c2"/>
<polygon points="175.5,601.8 175.5,601.6 176.9,596.5 179.8,592.8 182.8,575.3 184.2,563.6 185.7,556.3 187.2,554.1 188.9,559.2 190.8,556.3 193,554.8 195.2,550.5 197.1,548.3 198.1,557.8 199.6,565.1 201,562.2 202.5,563.6 204.7,560.7 206.2,565.1 208.3,569.5 210.5,572.4 212.7,576.8 214.2,569.5 215.7,568 217.1,573.8 219.3,581.2 221.5,591.4 223,597.2 224.4,601.6 224.4,601.8" fill="#c2c2c2"/>
<polyline points="46,601.2 229.5,601.2" fill="none" stroke="#e69f00" stroke-width="1.7" stroke-linejoin="round"/>
<polyline points="49.2,601.8 52.1,600.8 61.3,600.6 78.6,600.6 102.3,600.8 111.5,600.8 123.1,601.5" fill="none" stroke="#e69f00" stroke-width="1.7" stroke-linejoin="round"/>
<polyline points="49.2,602.1 50.9,599.2 52.7,598.1 54.4,596.9 56.1,595.8 57.8,594.6 59.6,593.5 61.3,592.3 63,591.2 64.8,590 66.5,590 68.2,590.6 70,591.7 71.7,592.9 73.4,594 75.2,594.6 76.9,594.6 78.6,595.2 80.3,595.8 82.1,596.3 83.8,595.8 85.5,596.3 87.3,595.8 89,596.3 90.7,596.3 92.5,596.9 94.8,596.9 97.1,597.5 99.4,598.1 102.3,598.1 105.8,597.5 111.5,598.1 117.3,599.2 123.1,601.5" fill="none" stroke="#56b4e9" stroke-width="1.7" stroke-linejoin="round"/>
<polyline points="49.2,602.1 50.3,596.9 51.5,593.5 52.7,596.9 53.5,590 54.4,578.5 55.5,576.2 56.7,579.6 57.8,576.2 59,568.1 60.2,572.7 61.3,576.2 62.5,570.4 63.6,566.9 64.8,562.3 65.9,564.6 67.1,563.5 68.2,560 69.4,564.6 70.5,568.1 71.7,572.7 72.8,578.5 73.8,583.1 74.9,576.2 76.1,571.5 77.5,573.8 78.6,576.2 80,578.5 81.5,580.8 83,579.6 84.4,580.8 85.5,578.5 86.7,575 87.8,572.7 89,573.8 90.2,571.5 91.3,571.5 92.5,570.4 93.6,569.2 94.8,570.4 95.9,571.5 97.1,569.2 98.2,568.1 99.4,570.4 100.5,572.7 102.3,575 104.6,576.2 105.8,571.5 106.9,569.2 108.1,566.9 109.2,564.6 110.4,562.3 111.5,566.9 112.7,563.5 113.8,561.2 115,560 116.2,563.5 117.3,569.2 118.5,571.5 119,578.5 119.8,585.4 120.8,588.8 121.9,594.6 123.1,601.8" fill="none" stroke="#009e73" stroke-width="1.7" stroke-linejoin="round"/>
<polyline points="127.7,601.8 129.4,596.9 130.6,594.6 131.7,596.9 133.5,595.8 134.6,593.5 135.8,598.1 136.9,601.8" fill="none" stroke="#e69f00" stroke-width="1.3" stroke-linejoin="round"/>
<polyline points="175.5,601.6 179.8,600.9 182.8,599.9 185.7,599 188.6,598.4 191.5,597.5 194.5,596.9 197.4,596.1 200.3,596.6 203.2,595.5 205.4,594.6 207.6,595 209.8,595.8 212,596.5 214.2,595.5 216.1,594.3 217.8,595.8 220,597.2 222.2,599.4 224.4,601.6" fill="none" stroke="#009e73" stroke-width="1.7" stroke-linejoin="round"/>
<polyline points="175.5,601.6 176.9,597.2 178.4,598.7 179.8,594.3 181.3,588.5 182.8,576.8 184.2,565.1 185.7,557.8 187.2,554.8 188.9,560.7 190.1,562.2 191.5,556.3 193,557.8 194.5,554.8 195.9,551.9 197.1,550.5 198.1,559.2 199.6,566.5 201,570.9 202.5,565.1 204,566.5 205.4,563.6 206.9,569.5 208.3,572.4 209.8,573.8 211.3,576.8 212.7,581.2 214.2,572.4 215.7,569.5 217.1,576.8 218.6,581.2 220,587 221.5,592.8 223,598.7 224.4,601.6" fill="none" stroke="#56b4e9" stroke-width="1.7" stroke-linejoin="round"/>
<path d="M72.2 499.1v4.5M72.2 601.8v-4.5M98.4 499.1v4.5M98.4 601.8v-4.5M124.6 499.1v4.5M124.6 601.8v-4.5M150.9 499.1v4.5M150.9 601.8v-4.5M177.1 499.1v4.5M177.1 601.8v-4.5M203.3 499.1v4.5M203.3 601.8v-4.5M46 581.3h4.5M229.5 581.3h-4.5M46 560.7h4.5M229.5 560.7h-4.5M46 540.2h4.5M229.5 540.2h-4.5M46 519.6h4.5M229.5 519.6h-4.5" stroke="#555" stroke-width="1" fill="none"/>
<rect x="99.2" y="499.1" width="76.5" height="41.9" fill="#fff"/>
<rect x="46" y="499.1" width="183.5" height="102.7" fill="none" stroke="#5a5a5a" stroke-width="1"/>
<text transform="translate(38.7 601.8) scale(0.9091 1)" font-size="13.2" text-anchor="end" dy="0.36em">0</text>
<text transform="translate(38.7 581.3) scale(0.9091 1)" font-size="13.2" text-anchor="end" dy="0.36em">20</text>
<text transform="translate(38.7 560.7) scale(0.9091 1)" font-size="13.2" text-anchor="end" dy="0.36em">40</text>
<text transform="translate(38.7 540.2) scale(0.9091 1)" font-size="13.2" text-anchor="end" dy="0.36em">60</text>
<text transform="translate(38.7 519.6) scale(0.9091 1)" font-size="13.2" text-anchor="end" dy="0.36em">80</text>
<text transform="translate(38.7 499.1) scale(0.9091 1)" font-size="13.2" text-anchor="end" dy="0.36em">100</text>
<text transform="translate(45.7 622.4) scale(0.9091 1)" font-size="13.2" text-anchor="middle">-6</text>
<text transform="translate(71.9 622.4) scale(0.9091 1)" font-size="13.2" text-anchor="middle">-4</text>
<text transform="translate(98.1 622.4) scale(0.9091 1)" font-size="13.2" text-anchor="middle">-2</text>
<text transform="translate(126.1 622.4) scale(0.9091 1)" font-size="13.2" text-anchor="middle">0</text>
<text transform="translate(152.4 622.4) scale(0.9091 1)" font-size="13.2" text-anchor="middle">2</text>
<text transform="translate(178.6 622.4) scale(0.9091 1)" font-size="13.2" text-anchor="middle">4</text>
<text transform="translate(204.8 622.4) scale(0.9091 1)" font-size="13.2" text-anchor="middle">6</text>
<text transform="translate(231 622.4) scale(0.9091 1)" font-size="13.2" text-anchor="middle">8</text>
<text transform="translate(137 636) scale(1.0000 1)" font-size="11.8" font-weight="bold" text-anchor="middle">Energy (eV)</text>
<text transform="translate(13.7 549.8) rotate(-90) scale(1.0000 1)" font-size="12.0" font-weight="bold" text-anchor="middle">DOS (a.u.)</text>
<text transform="translate(136.1 495.4) scale(1.0000 1)" font-size="10.1" font-weight="bold" text-anchor="middle">I<tspan font-size="7.1" dy="2">o</tspan><tspan dy="-2">:TiO</tspan><tspan font-size="7.1" dy="2">2</tspan></text>
<text class="l" transform="translate(139.3 505.2) scale(1.0000 1)" font-size="8.6" text-anchor="end" dy="0.36em">total DOS</text>
<rect x="143.3" y="502.6" width="24.2" height="5.2" fill="#c2c2c2"/>
<text class="l" transform="translate(139.3 515.8) scale(1.0000 1)" font-size="8.6" text-anchor="end" dy="0.36em">O</text>
<path d="M143.3 515.8H167.5" stroke="#009e73" stroke-width="1.35"/>
<text class="l" transform="translate(139.3 526.4) scale(1.0000 1)" font-size="8.6" text-anchor="end" dy="0.36em">Ti</text>
<path d="M143.3 526.4H167.5" stroke="#56b4e9" stroke-width="1.35"/>
<text class="l" transform="translate(139.3 537) scale(1.0000 1)" font-size="8.6" text-anchor="end" dy="0.36em">I</text>
<path d="M143.3 537H167.5" stroke="#e69f00" stroke-width="1.35"/>
<text transform="translate(134.4 552.6) scale(1.0000 1)" font-size="10.5" font-weight="bold" text-anchor="middle">(g)</text>
<path d="M350.8 501.8V607.4M377.9 501.8V607.4M404.9 501.8V607.4M432 501.8V607.4M459 501.8V607.4M486.1 501.8V607.4M323.8 586.3H513.1M323.8 565.2H513.1M323.8 544H513.1M323.8 522.9H513.1" stroke="#e8e8e8" stroke-width="0.9" fill="none"/>
<polygon points="323.5,607.4 323.5,607.1 323.5,578.5 324.6,587.7 325.8,591.2 326.9,573.8 328.1,568.1 329.2,576.2 330.4,573.8 331.5,569.2 332.7,566.9 333.8,558.8 335,549.6 335.6,547.3 336.4,553.1 337.5,562.3 338.7,562.3 340.2,560 341.3,564.6 342.5,573.8 343.7,578.5 345.2,580.8 346.5,577.3 347.7,573.8 348.8,578.5 350.2,579.6 351.7,578.5 353.5,575 354.6,573.8 356,577.3 357.2,577.3 358.3,572.7 359.8,568.1 361,560 361.8,568.1 362.9,575 364.4,570.4 365.6,566.9 366.7,569.2 367.9,575 369,578.5 370.5,579.6 371.7,580.8 372.8,577.3 374.2,576.2 375.6,575 377.1,570.4 378.6,569.2 380.8,568.1 381.9,565.8 384.2,566.9 385.6,561.2 387.7,565.8 390,570.4 392.3,576.2 393.5,584.2 394.6,592.3 395.8,600.4 396.7,606.4 396.7,607.4" fill="#c2c2c2"/>
<polygon points="453,607.4 453,607.2 454.3,600 457,591.1 459.5,571.7 461.9,565.2 463,558.8 464.3,555.5 466.7,553.9 467.9,549.1 469.2,545.8 470,542.6 471.1,549.1 473.7,565.2 474.8,573.3 477.2,573.3 478.5,568.5 480.1,573.3 482.1,570.1 483.7,571.7 485.6,570.1 487.3,574.9 488.9,578.2 491.5,583 493.4,584.6 495,584.6 496.3,587.9 497.4,597.5 498.6,604 499.9,607.2 499.9,607.4" fill="#c2c2c2"/>
<polygon points="407.3,607.4 407.3,606.7 408.5,603.8 409.6,601.5 410.5,605 411.7,602.7 412.8,604.4 414.2,603.8 415.4,599.2 416.3,595.8 417.1,602.7 418.3,605.6 419.4,606.7 419.4,607.4" fill="#c2c2c2"/>
<polyline points="323.8,606.8 513.1,606.8" fill="none" stroke="#e69f00" stroke-width="1.7" stroke-linejoin="round"/>
<polyline points="323.5,600.4 325.2,602.7 326.9,599.2 328.7,598.1 330.4,596.9 332.1,595.8 333.8,594 335.2,592.9 336.7,594 338.5,595.8 340.2,596.9 341.9,599.2 343.7,599.8 345.4,600.4 347.7,600.4 350,600.6 352.3,601 354.6,601 356.9,600.6 359.2,600.4 361,600.2 362.7,600.6 365,601 366.7,601.5 368.5,602.9 370.8,603.6 374.2,603.8 377.7,603.8 378.6,604.1 380.8,603.3 386.5,603.8 392.3,604.8 396.7,606.2" fill="none" stroke="#56b4e9" stroke-width="1.7" stroke-linejoin="round"/>
<polyline points="323.5,580.8 324.4,590 325.5,594.6 326.7,583.1 327.8,576.2 329,578.5 330.2,580.8 331.3,576.2 332.5,572.7 333.6,568.1 334.8,562.3 335.6,561.2 336.7,564.6 337.9,569.2 339,571.5 340.2,570.4 341.3,572.7 342.5,578.5 343.7,583.1 345.2,585.4 346.3,583.1 347.5,581.9 348.6,586.5 349.8,584.2 351.2,583.1 352.3,581.9 353.5,580.8 354.6,579.6 356,581.9 357.2,580.8 358.3,576.2 359.8,572.7 361,569.2 361.8,573.8 362.9,579.6 364.4,575 365.6,572.7 366.7,573.8 367.9,578.5 369,580.8 370.5,583.1 371.7,584.2 372.8,580.8 374.2,579.6 375.6,578.5 377.1,573.8 378.6,572.7 380.2,570.4 381.9,568.1 383.1,566.9 384.2,570.4 385.6,563.5 386.5,564.6 387.7,568.1 388.8,566.9 390,572.7 391.2,576.2 392.3,577.3 393.5,585.4 394.6,593.5 395.8,601.5 396.7,606.2 397.8,603.8 399.2,601.5 400.4,602.7 401.8,600.4 402.9,602.1 404.1,605 405,606.4" fill="none" stroke="#009e73" stroke-width="1.7" stroke-linejoin="round"/>
<polyline points="407.3,606.7 408.5,603.8 409.6,601.5 410.5,605 411.7,602.7 412.8,604.4 414.2,603.8 415.4,599.2 416.3,595.8 417.1,602.7 418.3,605.6 419.4,606.7" fill="none" stroke="#e69f00" stroke-width="1.2" stroke-linejoin="round"/>
<polyline points="440.9,607.2 442,604.8 443.3,605.9 444.6,607.2 447.3,607.2 448.5,604 449.8,603.2 451.1,607.2" fill="none" stroke="#009e73" stroke-width="1.7" stroke-linejoin="round"/>
<polyline points="453,607.2 456.2,606.9 459.5,604.8 462.7,603.2 465.9,602.1 469.2,601.6 472.4,600.8 474.8,601.6 477.2,602.4 479.7,601.6 482.1,600.8 485.3,600.5 488.5,600.8 491.8,601.6 495,601.6 496.6,602.4 498.2,604.8 499.9,607.2" fill="none" stroke="#009e73" stroke-width="1.7" stroke-linejoin="round"/>
<polyline points="453,607.2 454.3,600.8 455.9,599.2 457,592.7 458.2,583 459.5,573.3 460.8,563.6 461.9,566.8 463,560.4 464.3,557.2 465.6,558.8 466.7,555.5 467.9,550.7 469.2,547.5 470,545.8 471.1,550.7 472.4,558.8 473.7,566.8 474.8,574.9 475.9,579.8 477.2,576.5 478.5,570.1 479.7,576.5 481.3,579.8 482.4,573.3 483.7,576.5 485.3,574.9 486.6,578.2 488.2,581.4 489.8,583 491.5,586.2 493.1,587.9 494.7,587.9 495.8,589.5 496.6,597.5 498.2,604 499.9,607.2" fill="none" stroke="#56b4e9" stroke-width="1.7" stroke-linejoin="round"/>
<path d="M350.8 501.8v4.5M350.8 607.4v-4.5M377.9 501.8v4.5M377.9 607.4v-4.5M404.9 501.8v4.5M404.9 607.4v-4.5M432 501.8v4.5M432 607.4v-4.5M459 501.8v4.5M459 607.4v-4.5M486.1 501.8v4.5M486.1 607.4v-4.5M323.8 586.3h4.5M513.1 586.3h-4.5M323.8 565.2h4.5M513.1 565.2h-4.5M323.8 544h4.5M513.1 544h-4.5M323.8 522.9h4.5M513.1 522.9h-4.5" stroke="#555" stroke-width="1" fill="none"/>
<rect x="378.7" y="501.8" width="78.5" height="43.2" fill="#fff"/>
<rect x="323.8" y="501.8" width="189.3" height="105.6" fill="none" stroke="#5a5a5a" stroke-width="1"/>
<text transform="translate(316.1 607.4) scale(0.9091 1)" font-size="13.42" text-anchor="end" dy="0.36em">0</text>
<text transform="translate(316.1 586.3) scale(0.9091 1)" font-size="13.42" text-anchor="end" dy="0.36em">20</text>
<text transform="translate(316.1 565.2) scale(0.9091 1)" font-size="13.42" text-anchor="end" dy="0.36em">40</text>
<text transform="translate(316.1 544) scale(0.9091 1)" font-size="13.42" text-anchor="end" dy="0.36em">60</text>
<text transform="translate(316.1 522.9) scale(0.9091 1)" font-size="13.42" text-anchor="end" dy="0.36em">80</text>
<text transform="translate(316.1 501.8) scale(0.9091 1)" font-size="13.42" text-anchor="end" dy="0.36em">100</text>
<text transform="translate(323.5 628.6) scale(0.9091 1)" font-size="13.42" text-anchor="middle">-6</text>
<text transform="translate(350.5 628.6) scale(0.9091 1)" font-size="13.42" text-anchor="middle">-4</text>
<text transform="translate(377.6 628.6) scale(0.9091 1)" font-size="13.42" text-anchor="middle">-2</text>
<text transform="translate(406.4 628.6) scale(0.9091 1)" font-size="13.42" text-anchor="middle">0</text>
<text transform="translate(433.5 628.6) scale(0.9091 1)" font-size="13.42" text-anchor="middle">2</text>
<text transform="translate(460.5 628.6) scale(0.9091 1)" font-size="13.42" text-anchor="middle">4</text>
<text transform="translate(487.6 628.6) scale(0.9091 1)" font-size="13.42" text-anchor="middle">6</text>
<text transform="translate(514.6 628.6) scale(0.9091 1)" font-size="13.42" text-anchor="middle">8</text>
<text transform="translate(417.5 640.3) scale(1.0000 1)" font-size="11.8" font-weight="bold" text-anchor="middle">Energy (eV)</text>
<text transform="translate(289.9 556.9) rotate(-90) scale(1.0000 1)" font-size="12.0" font-weight="bold" text-anchor="middle">DOS (a.u.)</text>
<text transform="translate(417.5 498.1) scale(1.0000 1)" font-size="10.2" font-weight="bold" text-anchor="middle">I<tspan font-size="7.1" dy="2">i</tspan><tspan dy="-2">:TiO</tspan><tspan font-size="7.1" dy="2">2</tspan></text>
<text class="l" transform="translate(420.2 507.3) scale(1.0000 1)" font-size="8.8" text-anchor="end" dy="0.36em">total DOS</text>
<rect x="424.5" y="504.7" width="24.2" height="5.2" fill="#c2c2c2"/>
<text class="l" transform="translate(420.2 518) scale(1.0000 1)" font-size="8.8" text-anchor="end" dy="0.36em">O</text>
<path d="M424.5 518H448.7" stroke="#009e73" stroke-width="1.35"/>
<text class="l" transform="translate(420.2 528.7) scale(1.0000 1)" font-size="8.8" text-anchor="end" dy="0.36em">Ti</text>
<path d="M424.5 528.7H448.7" stroke="#56b4e9" stroke-width="1.35"/>
<text class="l" transform="translate(420.2 539.4) scale(1.0000 1)" font-size="8.8" text-anchor="end" dy="0.36em">I</text>
<path d="M424.5 539.4H448.7" stroke="#e69f00" stroke-width="1.35"/>
<text transform="translate(419 557.2) scale(1.0000 1)" font-size="10.5" font-weight="bold" text-anchor="middle">(h)</text>
<path d="M175.6 664.6V792.5M208.4 664.6V792.5M241.3 664.6V792.5M274.2 664.6V792.5M307.1 664.6V792.5M339.9 664.6V792.5M142.7 766.9H372.8M142.7 741.3H372.8M142.7 715.8H372.8M142.7 690.2H372.8" stroke="#e8e8e8" stroke-width="0.9" fill="none"/>
<polygon points="149.7,792.5 149.7,791.4 151.1,774.1 152.2,735.4 153.4,691.1 154.5,721.5 155.9,757.5 156.9,771.4 158,763.1 159.4,746.4 160.5,739.5 161.9,757.5 162.8,761.7 164.2,754.8 165.6,732.6 167,696.6 167.7,686.9 169.1,707.7 170.5,732.6 172.1,738.1 173.2,749.2 174.6,754.8 175.7,761.7 177.1,771.4 178.5,765.8 180.4,740.9 181.5,749.2 182.9,760.3 184.6,761.7 186,757.5 187.3,753.4 188.7,747.8 189.8,752 191.2,754.8 192.6,753.4 194,760.3 195.1,763.1 196.5,742.3 198.1,729.8 199.2,725.7 200.5,735.4 202.6,752 204.7,757.5 206.8,764.4 208.8,756.1 210.2,755.4 212.3,760.3 215.1,764.4 216.5,768.6 217.8,746.4 219.2,728.4 220.6,743.7 222,746.4 223.4,738.1 224.8,729.8 226.1,722.9 227.1,725.7 228.9,735.4 231,745.1 232.4,746.4 234.5,753.4 235.8,763.1 237.2,785.2 239,791.4 239,792.5" fill="#c2c2c2"/>
<polygon points="290,792.5 290,792.3 304.1,791.5 308.2,789 311.5,779.1 314.8,764.2 316.1,742.7 317.3,729.5 319.4,726.1 320.6,706.3 321.4,696.4 322.6,712.9 323.9,736.1 325.1,759.2 326.1,767.5 327.2,739.4 328.4,688.1 329.4,664.1 330.2,666.6 331.3,698 332.7,724.5 333.8,744.3 335,757.6 336.6,767.5 338,769.1 339.3,762.5 340.9,752.6 342.6,744.3 343.7,747.6 345.4,754.3 347.5,755.9 349.2,757.6 350.9,760.9 352.8,762.5 354.5,767.5 355.8,772.5 357,775.8 358.1,770.8 359.5,762.5 360.8,769.1 361.9,779.1 363.6,787.3 365.2,790.6 366.9,792.3 366.9,792.5" fill="#c2c2c2"/>
<polyline points="236.5,791.3 306.5,791.3" fill="none" stroke="#56b4e9" stroke-width="2.0" stroke-linejoin="round"/>
<polyline points="142.5,791.4 149.7,791.4 151.1,779.7 152.5,771.4 153.8,770 155.2,782.4 156.6,786.6 158,783.8 159.4,782.4 160.8,781.1 162.1,782.4 163.5,781.1 164.9,776.9 166.6,768.6 167.7,765.8 169.1,770 170.5,776.9 172.1,782.4 173.9,783.8 175.7,785.2 177.1,788 178.5,785.2 180.1,781.1 181.5,782.4 182.9,785.2 184.3,786.6 186.4,785.2 188.4,785.9 190.5,786.6 192.3,785.2 194,786.6 195.4,788 197,785.2 198.8,782.4 200.5,782.4 201.2,782.4 203.3,785.2 206.1,787.3 208.8,788 211.6,789.4 214.4,789.4 217.1,788 219.2,786.6 221.3,788 224.1,788.7 228.2,789.4 232.4,790.7 236.5,791.4" fill="none" stroke="#56b4e9" stroke-width="2.0" stroke-linejoin="round"/>
<polyline points="149.7,791.4 151.1,776.9 152.5,742.3 153.4,713.2 154.5,732.6 155.9,763.1 156.9,775.5 158,770 159.4,757.5 160.8,752 161.9,763.1 162.8,765.8 164.2,760.3 165.6,742.3 167,716 168,711.8 169.3,722.9 170.5,735.4 172.1,745.1 173.2,757.5 174.3,763.1 175.7,765.8 177.1,776.9 178.5,774.1 180.1,753.4 181.5,757.5 182.9,764.4 184.3,767.2 185.7,763.1 187.1,761.7 188.4,756.1 189.6,758.9 190.9,761.7 192.3,760.3 193.7,765.8 195.1,770 196.5,752 197.9,738.1 199.2,735.4 200.5,739.5 201.9,749.2 203.3,754.8 204.7,760.3 206.8,767.2 208.2,763.1 209.5,757.5 210.9,758.9 212.3,761.7 214.4,765.8 216.5,771.4 217.8,757.5 218.8,742.3 219.6,735.4 221,745.1 222,747.8 223.4,742.3 224.3,732.6 225.5,727.1 226.6,725.7 227.5,729.8 228.5,738.1 229.6,742.3 230.7,747.8 231.7,750.6 232.7,747.8 233.8,752 235.1,756.1 235.8,763.1 236.5,776.9 237.2,785.2 238.2,790.7 239,791.4" fill="none" stroke="#009e73" stroke-width="2.0" stroke-linejoin="round"/>
<polyline points="304.9,792.3 309.8,792 313.2,790.6 316.5,789 318.9,787.3 321.4,785.7 323.1,788.2 324.7,787.3 326.7,784 328.9,779.1 330.5,780.7 332.2,785.7 334.7,787.3 337.1,788.2 339.6,785.7 342.1,783.2 344.2,784 346.2,784.9 348.7,784 351.2,784.9 353.7,785.7 355.8,787.3 357.8,787.3 359.5,784 361.1,785.7 362.8,788.2 364.4,790.6 366.1,792.3" fill="none" stroke="#009e73" stroke-width="2.0" stroke-linejoin="round"/>
<polyline points="290,792.3 303.2,792.3 304.9,789.8 306.5,789 308.2,789.8 309.8,787.3 311.5,780.7 313.2,775.8 314.8,765.8 316.1,746 317.3,732.8 318.4,736.1 319.4,729.5 320.6,709.6 321.4,701.3 322.6,714.6 323.9,739.4 325.1,762.5 326.1,769.1 327.2,742.7 328.4,693.1 329.4,665 330.2,668.3 331.3,701.3 332.7,726.1 333.8,746 335,759.2 336.6,769.1 338,770.8 339.3,765.8 340.9,755.9 342.6,752.6 344.2,757.6 345.9,760.9 347.5,762.5 349.2,764.2 350.9,765.8 352.5,767.5 354.5,770.8 355.8,775.8 357,779.1 358.1,775.8 359.1,769.1 360.3,774.1 361.4,780.7 362.8,787.3 364.4,790.6 366.1,792.3 372.7,792.3" fill="none" stroke="#56b4e9" stroke-width="2.0" stroke-linejoin="round"/>
<path d="M175.6 664.6v6M175.6 792.5v-6M208.4 664.6v6M208.4 792.5v-6M241.3 664.6v6M241.3 792.5v-6M274.2 664.6v6M274.2 792.5v-6M307.1 664.6v6M307.1 792.5v-6M339.9 664.6v6M339.9 792.5v-6M142.7 766.9h6M372.8 766.9h-6M142.7 741.3h6M372.8 741.3h-6M142.7 715.8h6M372.8 715.8h-6M142.7 690.2h6M372.8 690.2h-6" stroke="#555" stroke-width="1" fill="none"/>
<rect x="209.3" y="664.6" width="98.7" height="44" fill="#fff"/>
<rect x="142.7" y="664.6" width="230.1" height="127.9" fill="none" stroke="#5a5a5a" stroke-width="1"/>
<text transform="translate(133.1 792.5) scale(0.9091 1)" font-size="17.93" text-anchor="end" dy="0.36em">0</text>
<text transform="translate(133.1 766.9) scale(0.9091 1)" font-size="17.93" text-anchor="end" dy="0.36em">20</text>
<text transform="translate(133.1 741.3) scale(0.9091 1)" font-size="17.93" text-anchor="end" dy="0.36em">40</text>
<text transform="translate(133.1 715.8) scale(0.9091 1)" font-size="17.93" text-anchor="end" dy="0.36em">60</text>
<text transform="translate(133.1 690.2) scale(0.9091 1)" font-size="17.93" text-anchor="end" dy="0.36em">80</text>
<text transform="translate(133.1 664.6) scale(0.9091 1)" font-size="17.93" text-anchor="end" dy="0.36em">100</text>
<text transform="translate(142.4 818.1) scale(0.9091 1)" font-size="17.93" text-anchor="middle">-6</text>
<text transform="translate(175.3 818.1) scale(0.9091 1)" font-size="17.93" text-anchor="middle">-4</text>
<text transform="translate(208.1 818.1) scale(0.9091 1)" font-size="17.93" text-anchor="middle">-2</text>
<text transform="translate(242.8 818.1) scale(0.9091 1)" font-size="17.93" text-anchor="middle">0</text>
<text transform="translate(275.7 818.1) scale(0.9091 1)" font-size="17.93" text-anchor="middle">2</text>
<text transform="translate(308.6 818.1) scale(0.9091 1)" font-size="17.93" text-anchor="middle">4</text>
<text transform="translate(341.4 818.1) scale(0.9091 1)" font-size="17.93" text-anchor="middle">6</text>
<text transform="translate(374.3 818.1) scale(0.9091 1)" font-size="17.93" text-anchor="middle">8</text>
<text transform="translate(256 833.3) scale(1.0000 1)" font-size="14.75" font-weight="bold" text-anchor="middle">Energy (eV)</text>
<text transform="translate(103.7 726.9) rotate(-90) scale(1.0000 1)" font-size="14.6" font-weight="bold" text-anchor="middle">DOS (a.u.)</text>
<text transform="translate(256.1 660.3) scale(1.0000 1)" font-size="11.7" font-weight="bold" text-anchor="middle">TiO<tspan font-size="8.2" dy="2.5">2</tspan></text>
<text class="l" transform="translate(267 670.9) scale(1.0000 1)" font-size="11.3" text-anchor="end" dy="0.36em">total DOS</text>
<rect x="272.3" y="667.2" width="32.1" height="7.4" fill="#c2c2c2"/>
<text class="l" transform="translate(267 685.2) scale(1.0000 1)" font-size="11.3" text-anchor="end" dy="0.36em">O</text>
<path d="M272.3 685.2H304.4" stroke="#009e73" stroke-width="1.8"/>
<text class="l" transform="translate(267 699.5) scale(1.0000 1)" font-size="11.3" text-anchor="end" dy="0.36em">Ti</text>
<path d="M272.3 699.5H304.4" stroke="#56b4e9" stroke-width="1.8"/>
<text transform="translate(256.6 733) scale(1.0000 1)" font-size="13.0" font-weight="bold" text-anchor="middle">(i)</text>
</svg></body></html>
